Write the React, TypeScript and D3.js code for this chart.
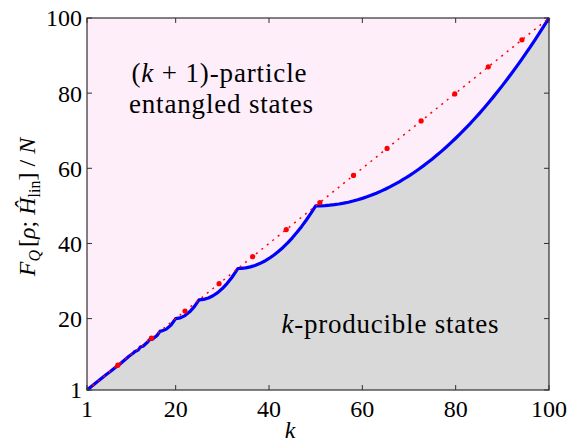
import React from "react";
import * as d3 from "d3";

// k values (including cusp points k = N/s) and bound F_Q/N
const kValues = [
  1, 2, 3, 4, 5, 6, 7, 8, 9, 10, 11, 11.11, 12, 12.5, 13, 14, 14.29, 15, 16, 16.67,
  17, 18, 19, 20, 21, 22, 23, 24, 25, 26, 27, 28, 29, 30, 31, 32, 33, 33.33, 34, 35,
  36, 37, 38, 39, 40, 41, 42, 43, 44, 45, 46, 47, 48, 49, 50, 51, 52, 53, 54, 55,
  56, 57, 58, 59, 60, 61, 62, 63, 64, 65, 66, 67, 68, 69, 70, 71, 72, 73, 74, 75,
  76, 77, 78, 79, 80, 81, 82, 83, 84, 85, 86, 87, 88, 89, 90, 91, 92, 93, 94, 95,
  96, 97, 98, 99, 100,
];
const boundValues = [
  1, 2, 2.98, 4, 5, 5.92, 6.9, 7.84, 8.92, 10, 10.9, 11.11, 11.68, 12.5, 12.64, 13.76, 14.29, 14.5, 15.52, 16.67,
  16.7, 17.2, 18.3, 20, 20.2, 20.8, 21.8, 23.2, 25, 25.12, 25.48, 26.08, 26.92, 28, 29.32, 30.88, 32.68, 33.33, 33.36, 33.5,
  33.76, 34.14, 34.64, 35.26, 36, 36.86, 37.84, 38.94, 40.16, 41.5, 42.96, 44.54, 46.24, 48.06, 50, 50.02, 50.08, 50.18, 50.32, 50.5,
  50.72, 50.98, 51.28, 51.62, 52, 52.42, 52.88, 53.38, 53.92, 54.5, 55.12, 55.78, 56.48, 57.22, 58, 58.82, 59.68, 60.58, 61.52, 62.5,
  63.52, 64.58, 65.68, 66.82, 68, 69.22, 70.48, 71.78, 73.12, 74.5, 75.92, 77.38, 78.88, 80.42, 82, 83.62, 85.28, 86.98, 88.72, 90.5,
  92.32, 94.18, 96.08, 98.02, 100,
];
// diagonal F_Q/N = k (red dotted), with its dot markers
const diagonalK = [1, 100];
const diagonalMarkerK = [7.6, 14.8, 22.0, 29.3, 36.5, 43.7, 50.9, 58.1, 65.3, 72.6, 79.8, 87.0, 94.2];
const xTicks = [1, 20, 40, 60, 80, 100];
const yTicks = [1, 20, 40, 60, 80, 100];

const W = 569;
const H = 445;
const M = { left: 87, right: 549, top: 18, bottom: 390 };
const FONT = "Liberation Serif, Times New Roman, serif";

export default function App() {
  const x = d3.scaleLinear().domain([1, 100]).range([M.left, M.right]);
  const y = d3.scaleLinear().domain([1, 100]).range([M.bottom, M.top]);
  const pts: [number, number][] = kValues.map((k, i) => [k, boundValues[i]]);
  const line = d3
    .line<[number, number]>()
    .x((d) => x(d[0]))
    .y((d) => y(d[1]));
  const curve = line(pts) as string;
  const pinkPath = line([...pts, [100, 100], [1, 100]]) + "Z";
  const grayPath = line([...pts, [100, 1], [1, 1]]) + "Z";
  const diag = line(diagonalK.map((k) => [k, k] as [number, number])) as string;
  const tickLen = 5;
  const axisColor = "#303030";
  const ts: React.CSSProperties = { fontFamily: FONT };

  return (
    <svg
      width={W}
      height={H}
      style={{ position: "absolute", left: 0, top: 0, background: "#fff", fontFamily: FONT }}
    >
      <path d={pinkPath} fill="#fdeefa" />
      <path d={grayPath} fill="#d9d9d9" />
      <path d={curve} fill="none" stroke="#0000ff" strokeWidth={3.2} strokeLinejoin="round" />
      <path d={diag} fill="none" stroke="#ff0000" strokeWidth={1.5} strokeDasharray="2 5" />
      {diagonalMarkerK.map((k, i) => (
        <circle key={i} cx={x(k)} cy={y(k)} r={2.6} fill="#ff0000" />
      ))}
      <rect
        x={M.left}
        y={M.top}
        width={M.right - M.left}
        height={M.bottom - M.top}
        fill="none"
        stroke={axisColor}
        strokeWidth={1.2}
      />
      {xTicks.map((t) => (
        <g key={"x" + t}>
          <line x1={x(t)} x2={x(t)} y1={M.bottom} y2={M.bottom - tickLen} stroke={axisColor} />
          <line x1={x(t)} x2={x(t)} y1={M.top} y2={M.top + tickLen} stroke={axisColor} />
          <text x={x(t)} y={417} textAnchor="middle" fontSize={24} fill="#000" style={ts}>
            {t}
          </text>
        </g>
      ))}
      {yTicks.map((t) => (
        <g key={"y" + t}>
          <line x1={M.left} x2={M.left + tickLen} y1={y(t)} y2={y(t)} stroke={axisColor} />
          <line x1={M.right} x2={M.right - tickLen} y1={y(t)} y2={y(t)} stroke={axisColor} />
          <text x={82} y={y(t)} dy="0.35em" textAnchor="end" fontSize={24} fill="#000" style={ts}>
            {t}
          </text>
        </g>
      ))}
      <text x={290} y={438} textAnchor="middle" fontSize={24} fontStyle="italic" style={ts}>
        k
      </text>
      <text transform="translate(35,207) rotate(-90)" textAnchor="middle" fontSize={24} style={ts}>
        <tspan fontStyle="italic">F</tspan>
        <tspan fontStyle="italic" fontSize={16} dy={5}>Q</tspan>
        <tspan dy={-5} dx={3}>[</tspan>
        <tspan fontStyle="italic">ρ</tspan>
        <tspan>; </tspan>
        <tspan fontStyle="italic">Ĥ</tspan>
        <tspan fontSize={16} dy={5}>lin</tspan>
        <tspan dy={-5}>] / </tspan>
        <tspan fontStyle="italic">N</tspan>
      </text>
      <text x={219} y={82} textAnchor="middle" fontSize={27} textLength={175} lengthAdjust="spacing" style={ts}>
        (<tspan fontStyle="italic">k</tspan> + 1)-particle
      </text>
      <text x={221} y={113} textAnchor="middle" fontSize={27} textLength={184} lengthAdjust="spacing" style={ts}>
        entangled states
      </text>
      <text x={390} y={333} textAnchor="middle" fontSize={27} textLength={217} lengthAdjust="spacing" style={ts}>
        <tspan fontStyle="italic">k</tspan>-producible states
      </text>
    </svg>
  );
}
